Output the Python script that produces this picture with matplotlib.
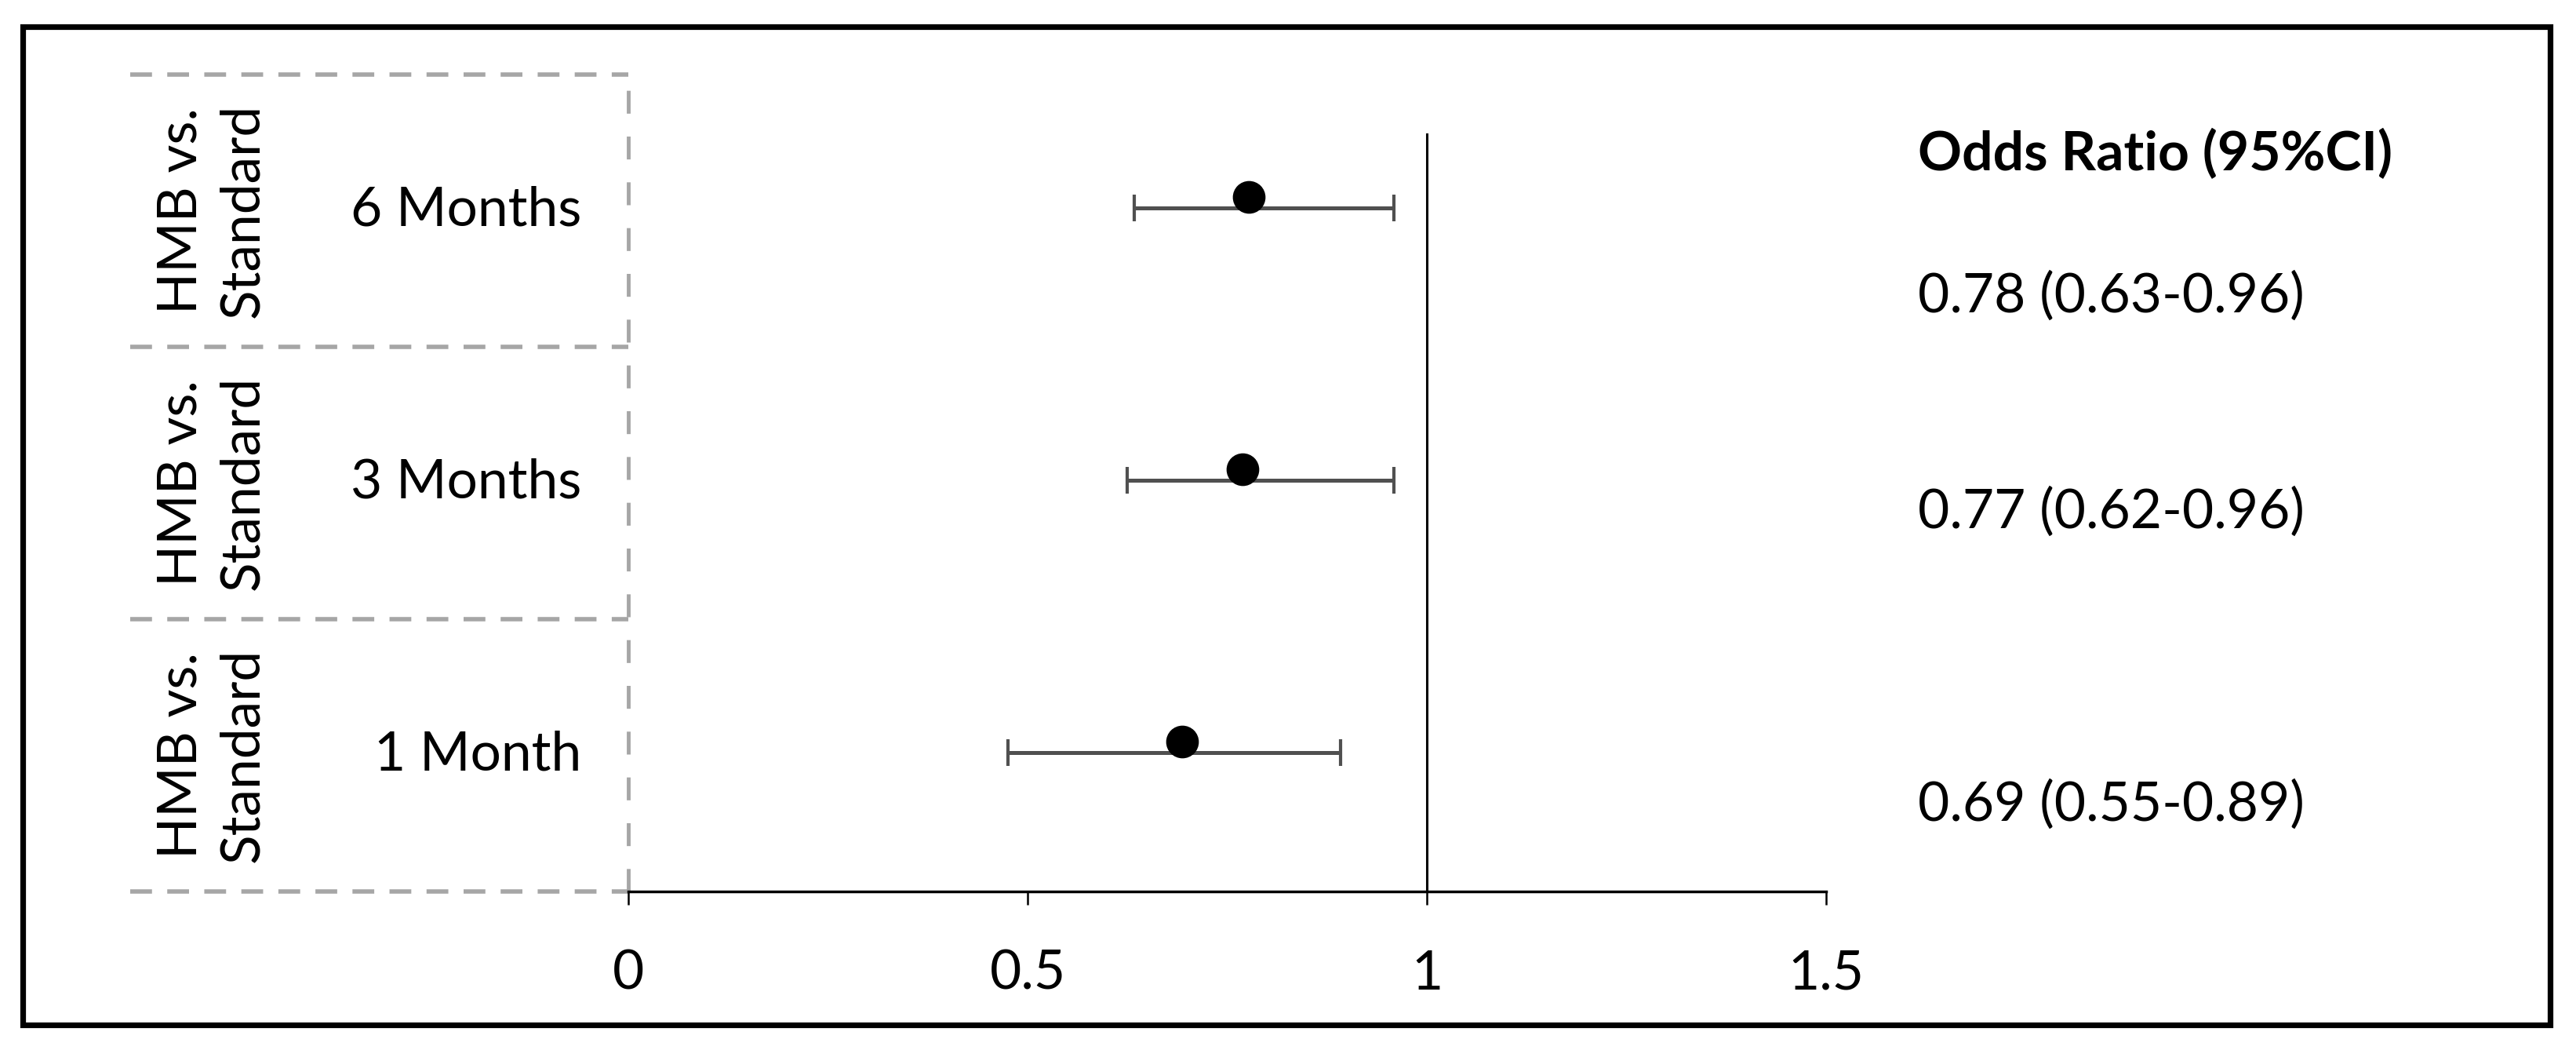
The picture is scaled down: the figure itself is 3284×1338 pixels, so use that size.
import matplotlib
matplotlib.use('Agg')
import matplotlib.pyplot as plt
from matplotlib.patches import Rectangle

# values (top row first in the lists)
periods = ['6 Months', '3 Months', '1 Month']
groups = ['HMB vs.\nStandard', 'HMB vs.\nStandard', 'HMB vs.\nStandard']
odds = [0.777, 0.769, 0.694]
ci_low = [0.634, 0.625, 0.475]
ci_high = [0.959, 0.959, 0.892]
or_labels = ['0.78 (0.63-0.96)', '0.77 (0.62-0.96)', '0.69 (0.55-0.89)']
xticks = [0, 0.5, 1, 1.5]
xtick_labels = ['0', '0.5', '1', '1.5']

plt.rcParams['font.family'] = ['Lato', 'DejaVu Sans']
FS = 50

fig = plt.figure(figsize=(32.84, 13.38), dpi=100)
ax = fig.add_axes([0.2439, 0.151, 0.465, 0.778])

n = len(periods)
rows = [n - 1 - i for i in range(n)]  # top row has highest y

for i in range(n):
    r = rows[i]
    ax.errorbar(odds[i], r + 0.51,
                xerr=[[odds[i] - ci_low[i]], [ci_high[i] - odds[i]]],
                fmt='none', ecolor='#505050', elinewidth=3.6, capsize=12.5,
                capthick=3, zorder=2)
    ax.plot(odds[i], r + 0.55, 'o', color='black', markersize=29, zorder=3)

    ax.text(-0.059, r + 0.5, periods[i], ha='right', va='center', fontsize=FS)
    ax.text(-0.521, r + 0.5, groups[i], ha='center', va='center',
            rotation=90, fontsize=FS, linespacing=1.3)

# reference line at OR = 1
ax.plot([1, 1], [0, 2.78], color='black', lw=2.2, zorder=1)

# dashed grid of the label table
for y in range(n + 1):
    ax.plot([-0.624, 0], [y, y], color='#a6a6a6', lw=4, ls=(0, (5, 3.5)),
            clip_on=False, zorder=1)
ax.plot([0, 0], [0, n], color='#a6a6a6', lw=3.5, ls=(0, (6, 6)),
        clip_on=False, zorder=1)

ax.set_xlim(0, 1.5)
ax.set_ylim(0, n)
ax.set_xticks(xticks)
ax.set_xticklabels(xtick_labels, fontsize=FS)
ax.set_yticks([])
for side in ['top', 'right', 'left']:
    ax.spines[side].set_visible(False)
ax.spines['bottom'].set_linewidth(2.5)
ax.tick_params(axis='x', length=12, width=1.8, pad=41)

# odds ratio column
fig.text(0.7445, 0.8535, 'Odds Ratio (95%CI)', fontsize=FS, fontweight='bold',
         ha='left', va='center')
label_y = [0.7182, 0.5127, 0.2339]
for lab, yy in zip(or_labels, label_y):
    fig.text(0.7445, yy, lab, fontsize=FS, ha='left', va='center')

# outer frame
fig.patches.append(Rectangle((0.00898, 0.02392), 0.99010 - 0.00898, 0.97422 - 0.02392,
                             transform=fig.transFigure, fill=False,
                             edgecolor='black', linewidth=5.2))

plt.savefig('out.png', dpi=100)
